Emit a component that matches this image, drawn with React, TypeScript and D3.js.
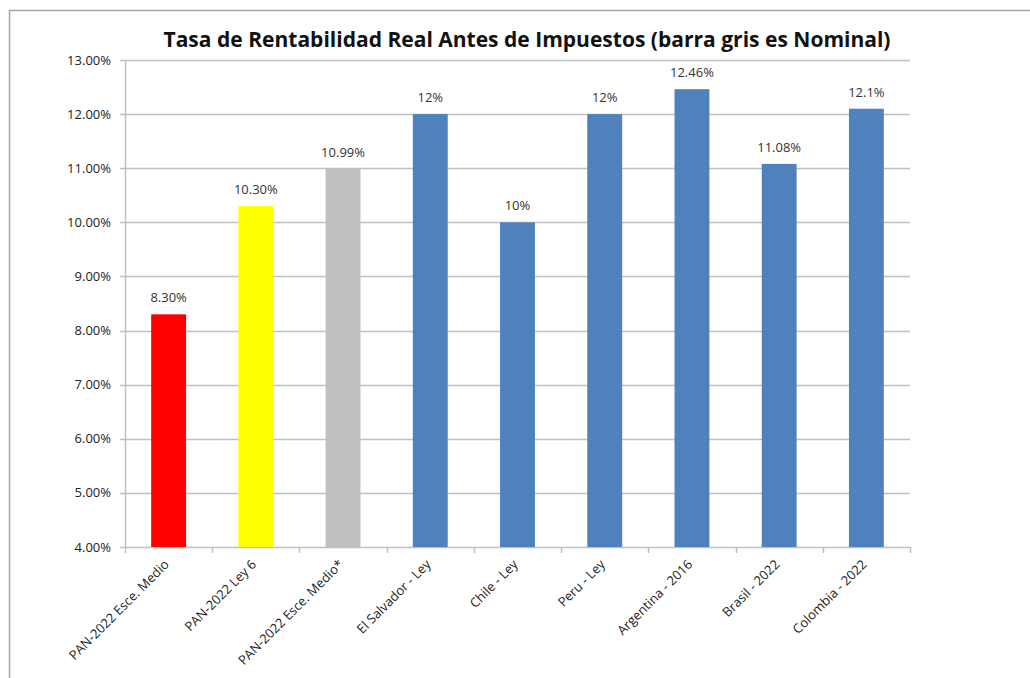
import * as d3 from "d3";

const categories = [
  "PAN-2022 Esce. Medio",
  "PAN-2022 Ley 6",
  "PAN-2022 Esce. Medio*",
  "El Salvador - Ley",
  "Chile - Ley",
  "Peru - Ley",
  "Argentina - 2016",
  "Brasil - 2022",
  "Colombia - 2022",
];
const values = [8.3, 10.3, 10.99, 12, 10, 12, 12.46, 11.08, 12.1];
const valueLabels = ["8.30%", "10.30%", "10.99%", "12%", "10%", "12%", "12.46%", "11.08%", "12.1%"];
const barColors = ["#FF0000", "#FFFF00", "#BFBFBF", "#4F81BD", "#4F81BD", "#4F81BD", "#4F81BD", "#4F81BD", "#4F81BD"];
const yTicks = [4, 5, 6, 7, 8, 9, 10, 11, 12, 13];

const title = "Tasa de Rentabilidad Real Antes de Impuestos (barra gris es Nominal)";

const width = 1030;
const height = 678;
const margin = { top: 60, right: 120, bottom: 131, left: 125 };
const font = "'Open Sans', 'Liberation Sans', sans-serif";

export default function App() {
  const x = d3
    .scaleBand()
    .domain(categories)
    .range([margin.left, width - margin.right])
    .paddingInner(0.6)
    .paddingOuter(0.3);
  const step = x.step();
  const y = d3
    .scaleLinear()
    .domain([4, 13])
    .range([height - margin.bottom, margin.top]);
  const y0 = y(4);

  return (
    <svg
      width={width}
      height={height}
      style={{ position: "absolute", left: 0, top: 0, background: "#fff" }}
      fontFamily={font}
    >
      <rect x={9.5} y={10.5} width={1040} height={700} fill="none" stroke="#A6A6A6" strokeWidth={1.5} />
      <text
        x={527}
        y={47}
        textAnchor="middle"
        fontSize={21}
        fontWeight="bold"
        fill="#111"
        textLength={727}
        lengthAdjust="spacingAndGlyphs"
      >
        {title}
      </text>

      {yTicks.map((t) => (
        <g key={t}>
          <line
            x1={margin.left - 5}
            x2={width - margin.right}
            y1={Math.round(y(t)) + 0.5}
            y2={Math.round(y(t)) + 0.5}
            stroke="#C0C0C0"
            strokeWidth={1.5}
          />
          <text x={111} y={y(t)} dy="0.35em" textAnchor="end" fontSize={13} fill="#222">
            {t.toFixed(2)}%
          </text>
        </g>
      ))}

      <line x1={margin.left + 0.5} x2={margin.left + 0.5} y1={margin.top} y2={y0} stroke="#C0C0C0" strokeWidth={1.5} />

      {d3.range(categories.length + 1).map((i) => {
        const tx = Math.round(margin.left + i * step) + 0.5;
        return <line key={i} x1={tx} x2={tx} y1={y0} y2={y0 + 6} stroke="#C0C0C0" strokeWidth={1.5} />;
      })}

      {categories.map((c, i) => {
        const bx = x(c) ?? 0;
        const cx = bx + x.bandwidth() / 2;
        return (
          <g key={c}>
            <rect x={bx} y={y(values[i])} width={x.bandwidth()} height={y0 - y(values[i])} fill={barColors[i]} />
            <text x={cx} y={y(values[i]) - 12} textAnchor="middle" fontSize={13} fill="#333">
              {valueLabels[i]}
            </text>
            <text
              transform={`translate(${cx - 2},${y0 + 15}) rotate(-45)`}
              textAnchor="end"
              dy="0.35em"
              fontSize={13}
              fill="#222"
            >
              {c}
            </text>
          </g>
        );
      })}
    </svg>
  );
}
